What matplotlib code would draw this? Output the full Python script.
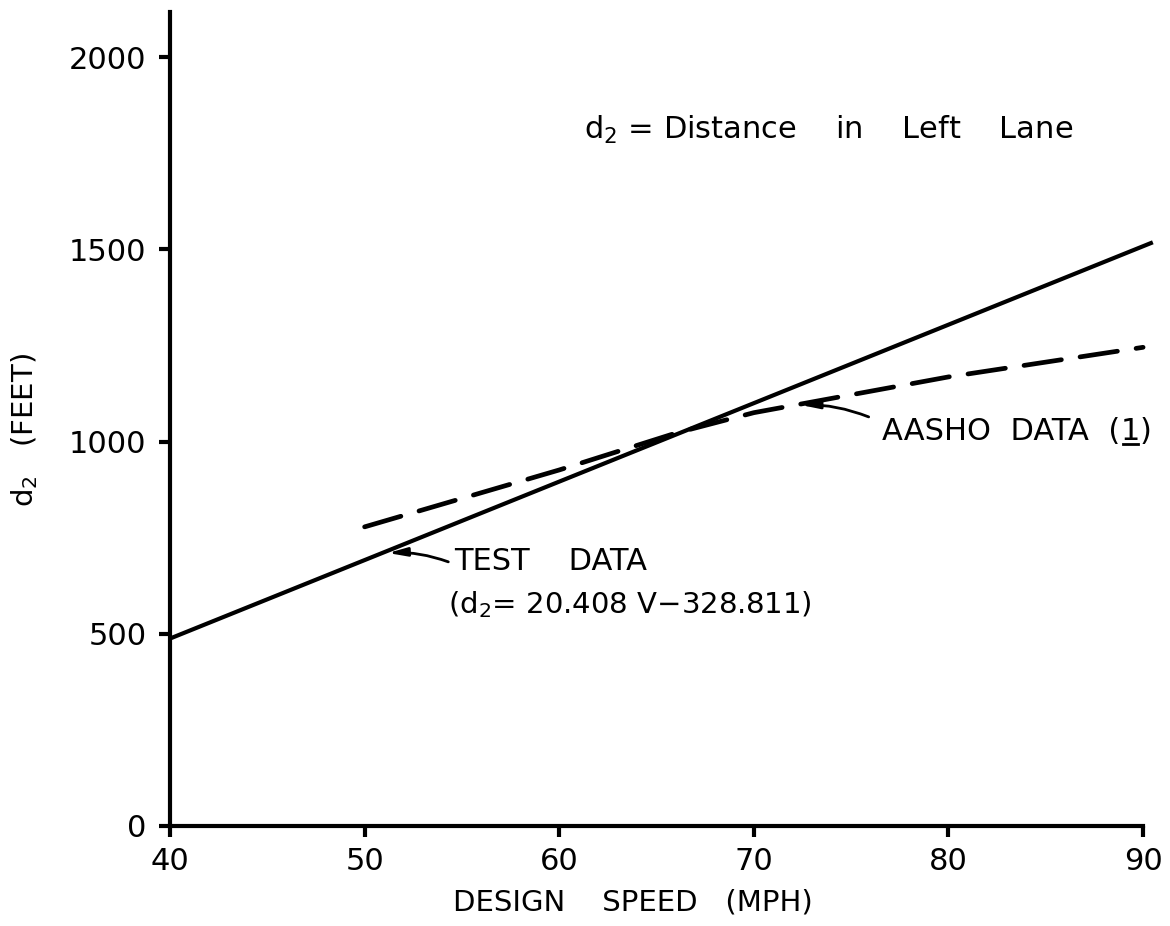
import numpy as np
import matplotlib
matplotlib.use('Agg')
from matplotlib import pyplot as plt
from matplotlib.lines import Line2D

# test data regression line d2 = 20.408 V - 328.811
test_slope = 20.408
test_intercept = -328.811
test_speed = [40, 90.5]

# AASHO values
aasho_speed = [50, 60, 66, 70, 80, 90]
aasho_d2 = [778, 926, 1022, 1075, 1168, 1245]

x_ticks = [40, 50, 60, 70, 80, 90]
y_ticks = [0, 500, 1000, 1500, 2000]

plt.rcParams['font.family'] = ['DejaVu Sans']
plt.rcParams['mathtext.fontset'] = 'dejavusans'

fig = plt.figure(figsize=(11.7, 9.26), dpi=100)
ax = fig.add_axes([0.1453, 0.108, 0.8317, 0.879])

test_v = np.array(test_speed)
ax.plot(test_v, test_slope * test_v + test_intercept, color='black', lw=3.0,
        solid_capstyle='butt', clip_on=False)
ax.plot(aasho_speed, aasho_d2, color='black', lw=3.4, dashes=(8, 4),
        dash_capstyle='round', clip_on=False)

ax.set_xlim(40, 90)
ax.set_ylim(0, 2117)
ax.set_xticks(x_ticks)
ax.set_yticks(y_ticks)
ax.set_yticklabels([str(v) for v in y_ticks])

for s in ['top', 'right']:
    ax.spines[s].set_visible(False)
for s in ['left', 'bottom']:
    ax.spines[s].set_linewidth(3.0)
ax.tick_params(axis='both', direction='out', length=8, width=3, labelsize=22)
ax.tick_params(axis='x', pad=7)
ax.tick_params(axis='y', pad=9)

ax.set_xlabel('DESIGN    SPEED   (MPH)', fontsize=21)
ax.xaxis.set_label_coords(0.476, -0.077)
ax.set_ylabel('d$_2$   (FEET)', fontsize=21)
ax.yaxis.set_label_coords(-0.134, 0.486)

ax.text(61.25, 1810, 'd$_2$ = Distance    in    Left    Lane', fontsize=22, va='center')

arrow = dict(arrowstyle='-|>,head_length=1.1,head_width=0.25', color='black', lw=2,
             shrinkA=0, shrinkB=0, connectionstyle='arc3,rad=0.1')
ax.annotate('', xy=(72.4, 1095), xytext=(75.9, 1064), arrowprops=arrow)
t1 = ax.text(76.6, 1025, 'AASHO  DATA  (', fontsize=22, va='center')
t2 = ax.annotate('1', xy=(1, 0.5), xycoords=t1, va='center', fontsize=22)
t3 = ax.annotate(')', xy=(1, 0.5), xycoords=t2, va='center', fontsize=22)

ax.annotate('', xy=(51.2, 710), xytext=(54.3, 687), arrowprops=arrow)
ax.text(54.6, 687, 'TEST    DATA', fontsize=22, va='center')
ax.text(54.3, 575, '(d$_2$= 20.408 V\u2212328.811)', fontsize=21, va='center')

# underline the reference number
fig.canvas.draw()
bb = t2.get_window_extent()
y_line = bb.y0 + 2
fig.add_artist(Line2D([bb.x0 + 2, bb.x1 - 2], [y_line, y_line], transform=None,
                      color='black', lw=2))

fig.savefig('out.png', dpi=100)
